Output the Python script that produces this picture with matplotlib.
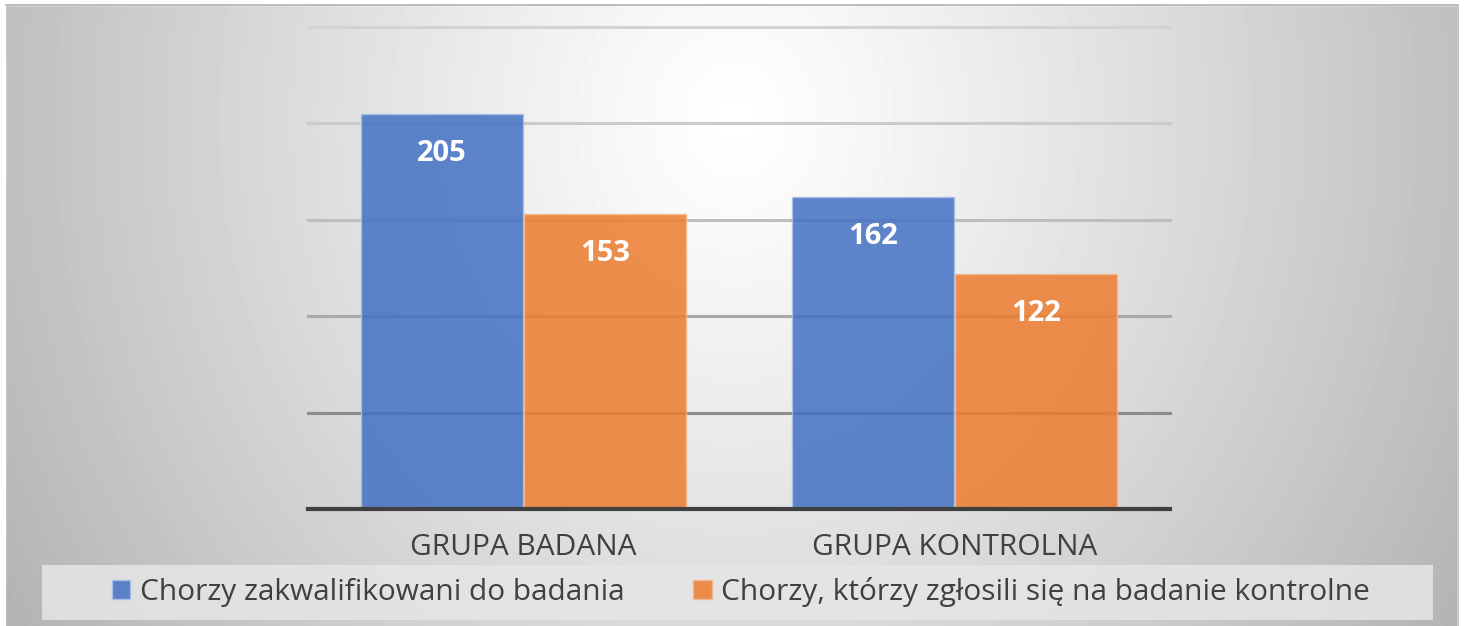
import matplotlib
matplotlib.use("Agg")
import matplotlib.pyplot as plt
import numpy as np
from matplotlib.patches import Rectangle

plt.rcParams['font.family'] = ['Open Sans', 'DejaVu Sans']

# dane
categories = ['GRUPA BADANA', 'GRUPA KONTROLNA']
series_names = ['Chorzy zakwalifikowani do badania',
                'Chorzy, którzy zgłosili się na badanie kontrolne']
qualified = [205, 162]
reported = [153, 122]
grid_values = [50, 100, 150, 200, 250]

W, H = 1466, 626
fig = plt.figure(figsize=(W / 100, H / 100), dpi=100)

# tło z gradientem radialnym
bg = fig.add_axes([0, 0, 1, 1], zorder=-10)
yy, xx = np.mgrid[0:H, 0:W]
d = np.sqrt(((xx - 735) / 730.0) ** 2 + ((yy - 120) / 820.0) ** 2)
shade = np.clip(1 - 0.25 * d ** 1.15, 0, 1)
bg.imshow(shade, cmap='gray', vmin=0, vmax=1, extent=(0, W, H, 0), aspect='auto')
bg.add_patch(Rectangle((0, 0), W, 5, color='white'))
bg.add_patch(Rectangle((0, 0), 5, H, color='white'))
bg.add_patch(Rectangle((1459, 0), W - 1459, H, color='white'))
bg.add_patch(Rectangle((5, 4), 1454, 2, color='#bdbdbd', lw=0))
bg.add_patch(Rectangle((1457, 5), 2, H, color='#c8c8c8', lw=0))
# pole legendy
bg.add_patch(Rectangle((42, 565), 1391, 55, color='#e6e6e6', alpha=0.85, lw=0))
bg.set_xlim(0, W)
bg.set_ylim(H, 0)
bg.axis('off')

# wykres
ax = fig.add_axes([308 / W, 1 - 509 / H, (1170 - 308) / W, (509 - 27) / H])
ax.patch.set_alpha(0)
x = np.arange(len(categories))
width = 0.374
b1 = ax.bar(x - width / 2 - 0.002, qualified, width, color='#4472C4', alpha=0.86,
            edgecolor='#a9c0e8', linewidth=1, label=series_names[0], zorder=3)
b2 = ax.bar(x + width / 2 + 0.002, reported, width, color='#ED7D31', alpha=0.86,
            edgecolor='#f5b88f', linewidth=1, label=series_names[1], zorder=3)

for bars in (b1, b2):
    for rect in bars:
        ax.annotate(f'{int(rect.get_height())}',
                    (rect.get_x() + rect.get_width() / 2, rect.get_height()),
                    xytext=(0, -28.5), textcoords='offset points',
                    ha='center', va='center', color='white',
                    fontsize=21, fontweight='bold', zorder=5)

ax.set_xlim(-0.5, 1.5)
ax.set_ylim(0, 250)
# linie siatki - coraz ciemniejsze ku dołowi
grid_colors = ['#8c8c8c', '#a9a9a9', '#bebebe', '#cbcbcb', '#d3d3d3']
for v, c in zip(grid_values, grid_colors):
    ax.axhline(v, color=c, linewidth=2.2, zorder=1, clip_on=False)
ax.set_yticks([])
ax.set_xticks(x)
ax.set_xticklabels(categories, fontsize=21.5, color='#404040')
ax.tick_params(axis='x', length=0, pad=17)
for side in ('top', 'right', 'left'):
    ax.spines[side].set_visible(False)
ax.spines['bottom'].set_color('#404040')
ax.spines['bottom'].set_linewidth(3)
ax.spines['bottom'].set_zorder(4)

leg = fig.legend(handles=[b1, b2], loc='center',
                 bbox_to_anchor=(741 / W, 1 - 592 / H), ncol=2,
                 frameon=False, fontsize=21.5, labelcolor='#404040',
                 handlelength=0.62, handleheight=0.62, handletextpad=0.32,
                 columnspacing=2.3)

fig.savefig('out.png', dpi=100)
